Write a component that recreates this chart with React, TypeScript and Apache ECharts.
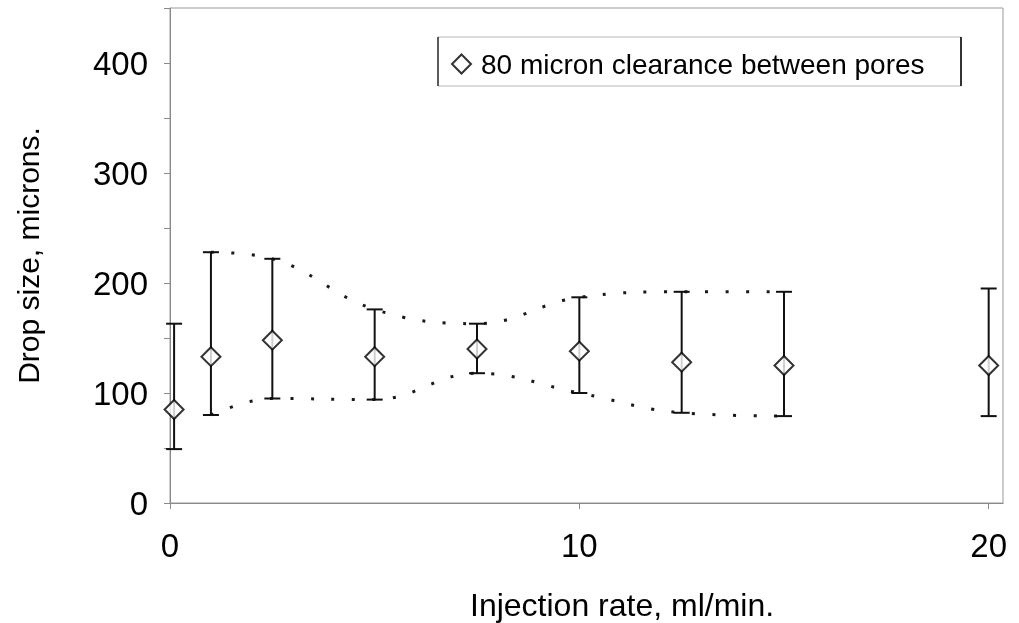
import React, { useEffect, useRef } from "react";
import * as echarts from "echarts";

// Injection rate (ml/min) and measured drop sizes (microns)
const rates = [0.1, 1, 2.5, 5, 7.5, 10, 12.5, 15, 20];
const meanSize = [85, 133, 148, 133, 140, 138, 128, 125, 125];
const maxSize = [163, 228, 222, 176, 163, 187, 192, 192, 195];
const minSize = [49, 80, 95, 94, 118, 100, 82, 79, 79];

// The dotted envelope runs through the bar ends from 1 to 15 ml/min
const envelopeFrom = 1;
const envelopeTo = 7;

const xTickLabels = [0, 10, 20];
const seriesName = "80 micron clearance between pores";

const FONT = "'Liberation Sans', Arial, sans-serif";

export default function App() {
  const ref = useRef<HTMLDivElement>(null);

  useEffect(() => {
    if (!ref.current) return;
    const chart = echarts.init(ref.current, undefined, { renderer: "svg" });

    const points = rates.map((r, i) => [r, meanSize[i]]);
    const bars = rates.map((r, i) => [r, minSize[i], maxSize[i]]);
    const upper = rates
      .slice(envelopeFrom, envelopeTo + 1)
      .map((r, k) => [r, maxSize[k + envelopeFrom]]);
    const lower = rates
      .slice(envelopeFrom, envelopeTo + 1)
      .map((r, k) => [r, minSize[k + envelopeFrom]]);

    const dotted = {
      color: "#1a1a1a",
      width: 3,
      type: [3, 17.5] as number[],
      cap: "butt" as const,
    };

    chart.setOption({
      animation: false,
      textStyle: { fontFamily: FONT },
      grid: {
        left: 170,
        top: 8,
        right: 16,
        bottom: 120,
        outerBoundsMode: "none",
        containLabel: false,
        show: true,
        borderColor: "#9a9a9a",
        borderWidth: 1,
      },
      xAxis: {
        type: "value",
        min: 0,
        max: 20.35,
        interval: 10,
        splitLine: { show: false },
        axisLine: { lineStyle: { color: "#8a8a8a", width: 1 } },
        axisTick: {
          customValues: xTickLabels,
          length: 6,
          lineStyle: { color: "#8a8a8a" },
        },
        axisLabel: {
          customValues: xTickLabels,
          color: "#000",
          fontSize: 33,
          fontFamily: FONT,
          margin: 26,
        },
      },
      yAxis: {
        type: "value",
        min: 0,
        max: 450,
        interval: 50,
        name: "Drop size, microns.",
        nameLocation: "middle",
        nameGap: 127,
        nameTextStyle: { color: "#000", fontSize: 30, fontFamily: FONT },
        splitLine: { show: false },
        axisLine: { show: true, lineStyle: { color: "#8a8a8a", width: 1 } },
        axisTick: { show: true, length: 6, lineStyle: { color: "#8a8a8a" } },
        axisLabel: {
          color: "#000",
          fontSize: 33,
          fontFamily: FONT,
          margin: 22,
          formatter: (v: number) => (v % 100 === 0 ? String(v) : ""),
        },
      },
      graphic: [
        {
          type: "text",
          x: 470,
          y: 605,
          style: {
            text: "Injection rate, ml/min.",
            fill: "#000",
            font: `32px ${FONT}`,
            textVerticalAlign: "middle",
          },
        },
        // legend frame
        {
          type: "rect",
          shape: { x: 438, y: 37, width: 523, height: 49 },
          style: { fill: "#fff", stroke: "#b5b5b5", lineWidth: 1 },
          z: 5,
        },
        {
          type: "line",
          shape: { x1: 438, y1: 37, x2: 438, y2: 86 },
          style: { stroke: "#333", lineWidth: 1.5 },
          z: 6,
        },
        {
          type: "line",
          shape: { x1: 961, y1: 37, x2: 961, y2: 86 },
          style: { stroke: "#333", lineWidth: 2 },
          z: 6,
        },
      ],
      legend: {
        show: true,
        left: 446,
        top: 45,
        itemWidth: 19,
        itemHeight: 19,
        itemGap: 0,
        data: [{ name: seriesName, icon: "diamond" }],
        textStyle: { color: "#000", fontSize: 28, fontFamily: FONT, padding: [0, 0, 0, 5] },
        z: 10,
      },
      series: [
        {
          name: "upper",
          type: "line",
          data: upper,
          smooth: 0.4,
          showSymbol: false,
          lineStyle: dotted,
          z: 2,
          silent: true,
        },
        {
          name: "lower",
          type: "line",
          data: lower,
          smooth: 0.4,
          showSymbol: false,
          lineStyle: dotted,
          z: 2,
          silent: true,
        },
        {
          name: "range",
          type: "custom",
          data: bars,
          z: 3,
          renderItem: (_params: any, api: any) => {
            const x = api.value(0);
            const lo = api.coord([x, api.value(1)]);
            const hi = api.coord([x, api.value(2)]);
            const half = 8;
            const style = { stroke: "#111", lineWidth: 2, fill: "none" };
            return {
              type: "group",
              children: [
                { type: "line", shape: { x1: lo[0], y1: lo[1], x2: hi[0], y2: hi[1] }, style },
                { type: "line", shape: { x1: hi[0] - half, y1: hi[1], x2: hi[0] + half, y2: hi[1] }, style },
                { type: "line", shape: { x1: lo[0] - half, y1: lo[1], x2: lo[0] + half, y2: lo[1] }, style },
              ],
            };
          },
        },
        {
          name: seriesName,
          type: "scatter",
          data: points,
          symbol: "diamond",
          symbolSize: 19,
          itemStyle: { color: "#fff", borderColor: "#000", borderWidth: 2 },
          z: 4,
        },
      ],
    });

    return () => chart.dispose();
  }, []);

  return (
    <div
      ref={ref}
      style={{ position: "fixed", left: 0, top: 0, width: 1019, height: 623 }}
    />
  );
}
